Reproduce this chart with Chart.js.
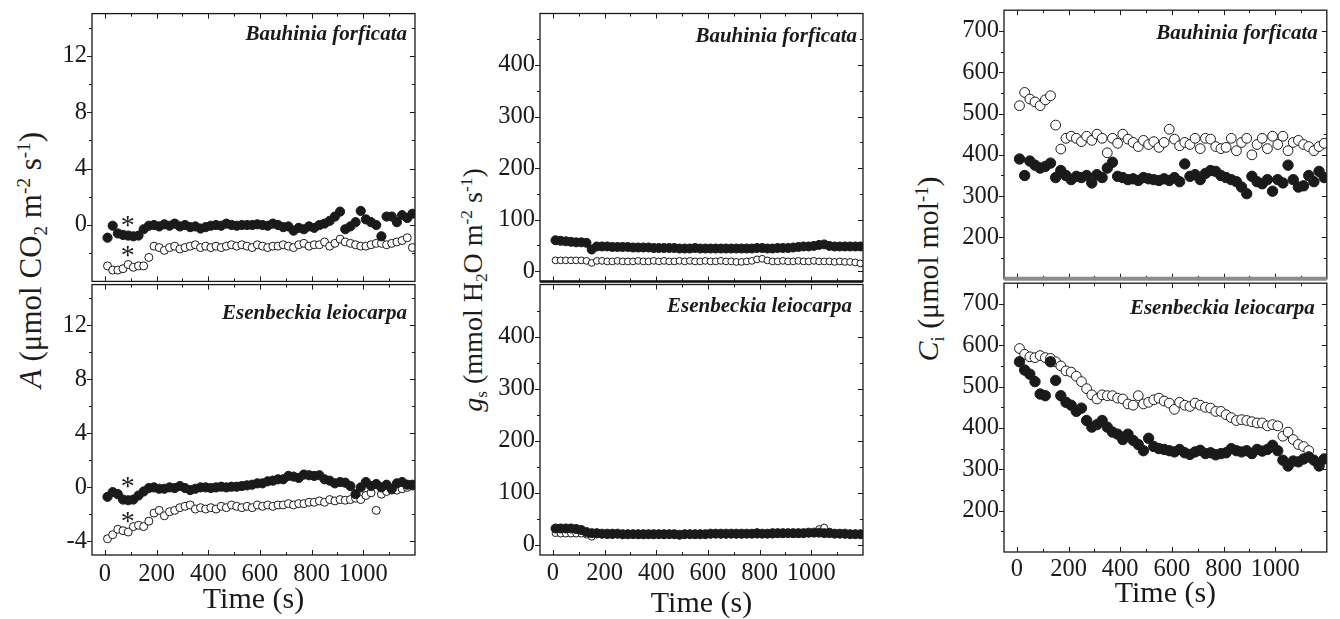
<!DOCTYPE html>
<html>
<head>
<meta charset="utf-8">
<script src="https://cdn.jsdelivr.net/npm/chart.js@4.4.1/dist/chart.umd.min.js"></script>
<style>
  html, body { margin: 0; padding: 0; background: #fff; }
  #fig { position: relative; width: 1340px; height: 619px; overflow: hidden;
         font-family: "Liberation Serif", "Times New Roman", serif; color: #1d1d1b; }
  #fig canvas { position: absolute; }
  .ytitle { position: absolute; white-space: nowrap; line-height: 1;
            transform: translate(-50%, -50%) rotate(-90deg); }
  .ytitle sub, .ytitle sup { font-size: 0.62em; line-height: 0; position: relative; vertical-align: baseline; }
  .ytitle sub { top: 0.3em; }
  .ytitle sup { top: -0.55em; }
</style>
</head>
<body>
<div id="fig">
  <div class="ytitle" style="left:30px;top:260px;font-size:31px"><i>A</i> (μmol CO<sub>2</sub> m<sup>-2</sup> s<sup>-1</sup>)</div>
  <div class="ytitle" style="left:473px;top:290px;font-size:28px"><i>g</i><sub>s</sub> (mmol H<sub>2</sub>O m<sup>-2</sup> s<sup>-1</sup>)</div>
  <div class="ytitle" style="left:928px;top:269px;font-size:30px"><i>C</i><sub>i</sub> (μmol mol<sup>-1</sup>)</div>
</div>
<script>
// sampling times (s)
const times = [10, 30, 50, 70, 90, 110, 130, 150, 170, 190,
  210, 230, 250, 270, 290, 310, 330, 350, 370, 390,
  410, 430, 450, 470, 490, 510, 530, 550, 570, 590,
  610, 630, 650, 670, 690, 710, 730, 750, 770, 790,
  810, 830, 850, 870, 890, 910, 930, 950, 970, 990,
  1010, 1030, 1050, 1070, 1090, 1110, 1130, 1150, 1170, 1190];

// A - Bauhinia forficata
const aBfFilled = [-0.9, -0.05, -0.6, -0.7, -0.75, -0.8, -0.75, -0.3, -0.05, 0.0,
  -0.1, 0.05, -0.05, 0.1, -0.1, 0.0, -0.15, -0.1, -0.25, -0.15,
  -0.05, 0.0, -0.05, 0.1, 0.0, -0.05, 0.0, 0.0, 0.0, 0.05,
  0.0, -0.05, 0.1, 0.0, -0.15, -0.1, -0.4, -0.2, -0.3, -0.1,
  -0.2, 0.0, 0.1, 0.3, 0.6, 0.95, -0.3, -0.1, 0.2, 1.0,
  0.4, 0.2, 0.0, -0.8, 0.6, 0.6, 0.2, 0.7, 0.5, 0.8];
const aBfOpen = [-2.9, -3.2, -3.2, -3.1, -2.8, -3.0, -2.9, -2.9, -2.3, -1.5,
  -1.6, -1.8, -1.6, -1.5, -1.7, -1.6, -1.5, -1.4, -1.6, -1.5,
  -1.6, -1.5, -1.6, -1.5, -1.4, -1.5, -1.4, -1.5, -1.6, -1.4,
  -1.5, -1.6, -1.5, -1.5, -1.4, -1.5, -1.6, -1.4, -1.3, -1.5,
  -1.4, -1.4, -1.2, -1.5, -1.3, -1.0, -1.2, -1.3, -1.4, -1.5,
  -1.5, -1.4, -1.3, -1.3, -1.4, -1.3, -1.2, -1.1, -0.9, -1.6];

// A - Esenbeckia leiocarpa
const aElFilled = [-0.7, -0.35, -0.5, -0.9, -0.95, -0.9, -0.6, -0.3, -0.05, 0.0,
  -0.1, -0.1, 0.0, -0.05, 0.1, -0.05, -0.2, -0.1, 0.0, 0.0,
  -0.05, 0.0, 0.05, 0.0, 0.05, 0.05, 0.1, 0.15, 0.2, 0.3,
  0.3, 0.45, 0.5, 0.6, 0.6, 0.85, 0.8, 0.7, 0.95, 0.9,
  0.85, 0.9, 0.6, 0.5, 0.3, 0.4, 0.35, 0.1, -0.5, 0.0,
  0.4, 0.1, 0.25, 0.0, 0.2, -0.1, 0.3, 0.4, 0.2, 0.2];
const aElOpen = [-3.8, -3.5, -3.1, -3.2, -3.3, -2.9, -2.8, -2.9, -2.5, -1.9,
  -1.7, -2.1, -1.8, -1.7, -1.5, -1.4, -1.3, -1.6, -1.5, -1.6,
  -1.5, -1.6, -1.4, -1.5, -1.3, -1.4, -1.5, -1.4, -1.5, -1.3,
  -1.4, -1.3, -1.4, -1.3, -1.3, -1.2, -1.3, -1.2, -1.2, -1.1,
  -1.1, -1.0, -1.1, -0.9, -1.0, -0.9, -0.95, -0.9, -0.8, -0.9,
  -0.6, -0.4, -1.7, -0.5, -0.3, -0.2, -0.2, -0.1, 0.0, 0.1];

// gs - Bauhinia forficata
const gsBfFilled = [60, 59, 58, 57, 56, 56, 55, 42, 48, 48,
  48, 47, 47, 47, 47, 46, 46, 46, 46, 45,
  45, 45, 45, 45, 44, 44, 44, 45, 44, 44,
  44, 44, 44, 44, 44, 44, 44, 44, 44, 45,
  45, 44, 44, 45, 45, 45, 46, 47, 48, 48,
  49, 51, 52, 49, 48, 48, 48, 48, 48, 48];
const gsBfOpen = [21, 21, 21, 21, 21, 21, 20, 16, 20, 20,
  19, 19, 20, 19, 19, 19, 20, 19, 19, 20,
  19, 20, 19, 19, 20, 19, 20, 19, 19, 20,
  19, 19, 20, 19, 19, 18, 18, 19, 20, 23,
  24, 21, 19, 19, 20, 19, 19, 20, 19, 19,
  20, 19, 19, 19, 18, 19, 18, 18, 17, 15];

// gs - Esenbeckia leiocarpa
const gsElFilled = [31, 31, 31, 31, 30, 28, 24, 22, 22, 21,
  21, 21, 21, 20, 20, 20, 20, 20, 20, 20,
  20, 20, 20, 20, 19, 20, 20, 20, 20, 20,
  21, 21, 21, 21, 21, 21, 21, 21, 21, 22,
  21, 21, 22, 22, 22, 22, 22, 22, 22, 23,
  23, 23, 22, 22, 21, 21, 21, 20, 20, 20];
const gsElOpen = [22, 21, 21, 21, 21, 21, 19, 15, 19, 19,
  18, 18, 19, 18, 18, 19, 18, 18, 19, 18,
  19, 18, 19, 19, 18, 19, 19, 18, 19, 19,
  19, 20, 19, 19, 20, 19, 19, 20, 20, 19,
  20, 20, 19, 20, 20, 21, 20, 20, 21, 21,
  22, 30, 33, 25, 21, 20, 19, 19, 19, 19];

// Ci - Bauhinia forficata
const ciBfFilled = [390, 350, 385, 375, 368, 372, 380, 345, 362, 350,
  340, 348, 345, 350, 332, 352, 345, 368, 382, 348,
  345, 340, 342, 338, 345, 342, 340, 338, 342, 338,
  345, 335, 378, 348, 352, 340, 355, 362, 360, 350,
  345, 340, 335, 322, 306, 348, 335, 330, 340, 312,
  340, 332, 375, 340, 322, 325, 350, 335, 360, 345];
const ciBfOpen = [519, 551, 535, 528, 519, 533, 543, 472, 414, 440,
  445, 440, 432, 445, 435, 450, 440, 405, 440, 428,
  450, 438, 430, 420, 435, 425, 432, 418, 430, 462,
  438, 422, 430, 425, 440, 415, 440, 438, 420, 415,
  418, 440, 410, 430, 440, 400, 425, 440, 415, 445,
  425, 445, 410, 430, 435, 425, 420, 410, 420, 428];

// Ci - Esenbeckia leiocarpa
const ciElFilled = [560, 540, 530, 512, 482, 478, 560, 515, 478, 462,
  455, 440, 448, 418, 402, 408, 418, 402, 390, 385,
  372, 385, 370, 360, 345, 375, 355, 350, 348, 345,
  342, 348, 340, 336, 342, 346, 338, 340, 335, 338,
  340, 350, 345, 342, 345, 338, 348, 344, 348, 358,
  345, 322, 308, 320, 318, 325, 330, 322, 308, 325];
const ciElOpen = [592, 578, 572, 570, 575, 570, 568, 560, 550, 538,
  535, 525, 512, 495, 480, 470, 480, 478, 478, 472,
  470, 458, 455, 478, 458, 462, 468, 472, 465, 460,
  445, 462, 455, 452, 460, 455, 450, 448, 440, 440,
  432, 425, 418, 420, 418, 415, 412, 412, 405, 408,
  405, 380, 390, 372, 360, 355, 345, null, null, null];

// tick labels
const timeTicks = [0, 200, 400, 600, 800, 1000];
const aTicksTop = [0, 4, 8, 12];
const aTicksBottom = [-4, 0, 4, 8, 12];
const gsTicks = [0, 100, 200, 300, 400];
const ciTicks = [200, 300, 400, 500, 600, 700];

const ink = '#1a1a18';
const serif = '"Liberation Serif", "Times New Roman", serif';
const Y_AXIS_W = 60, X_AXIS_H = 64, PAD = 4, PAD_R = 6;

function pts(values) {
  return times.map((t, i) => ({ x: t, y: values[i] }));
}

// box, inward ticks, divider, species name and asterisks
const framePlugin = {
  id: 'frame',
  afterDatasetsDraw(chart, args, o) {
    const { ctx, chartArea: a, scales: { x, y } } = chart;
    ctx.save();
    ctx.strokeStyle = ink;
    ctx.lineWidth = 1;
    ctx.beginPath();
    for (let v = Math.ceil(x.min / 100) * 100; v < x.max; v += 100) {
      if (v <= x.min) continue;
      const px = Math.round(x.getPixelForValue(v)) + 0.5;
      const len = v % 200 === 0 ? 5 : 3;
      ctx.moveTo(px, a.bottom); ctx.lineTo(px, a.bottom - len);
      ctx.moveTo(px, a.top); ctx.lineTo(px, a.top + len);
    }
    for (let v = Math.ceil(y.min / o.yMinor) * o.yMinor; v < y.max; v += o.yMinor) {
      if (v <= y.min) continue;
      const py = Math.round(y.getPixelForValue(v)) + 0.5;
      const len = o.yTicks.includes(v) ? 5 : 3;
      ctx.moveTo(a.left - len, py); ctx.lineTo(a.left, py);
      ctx.moveTo(a.right, py); ctx.lineTo(a.right - len, py);
    }
    ctx.stroke();

    ctx.lineWidth = 1.3;
    ctx.strokeRect(a.left, a.top, a.right - a.left, a.bottom - a.top);

    if (o.divider) {
      ctx.strokeStyle = o.divider.color;
      ctx.lineWidth = o.divider.width;
      ctx.beginPath();
      ctx.moveTo(a.left, a.bottom); ctx.lineTo(a.right, a.bottom);
      ctx.stroke();
    }

    ctx.fillStyle = ink;
    ctx.font = 'italic bold 21px ' + serif;
    ctx.textAlign = 'right';
    ctx.textBaseline = 'middle';
    ctx.fillText(o.label, a.right - o.labelDx, a.top + o.labelDy);

    ctx.font = '28px ' + serif;
    ctx.textAlign = 'center';
    ctx.textBaseline = 'alphabetic';
    (o.stars || []).forEach(s => {
      ctx.fillText('*', x.getPixelForValue(s[0]), y.getPixelForValue(s[1]) + 12);
    });
    ctx.restore();
  }
};

function noLabelPadding(s) {
  s.paddingTop = 0; s.paddingBottom = 0; s.paddingLeft = 0; s.paddingRight = 0;
}

function makePanel(p) {
  const [l, t, r, b] = p.plot;
  const showX = p.xTitlePad !== undefined;
  const w = (r - l) + Y_AXIS_W + PAD_R;
  const h = (b - t) + PAD + (showX ? X_AXIS_H : PAD);
  const canvas = document.createElement('canvas');
  canvas.width = w; canvas.height = h;
  canvas.style.left = (l - Y_AXIS_W) + 'px';
  canvas.style.top = (t - PAD) + 'px';
  canvas.style.width = w + 'px'; canvas.style.height = h + 'px';
  document.getElementById('fig').appendChild(canvas);

  new Chart(canvas, {
    type: 'scatter',
    data: {
      datasets: [
        { data: pts(p.filled), pointRadius: p.r[0], pointBackgroundColor: ink,
          pointBorderColor: ink, pointBorderWidth: 1, order: 0 },
        { data: pts(p.open), pointRadius: p.r[1], pointBackgroundColor: '#fff',
          pointBorderColor: ink, pointBorderWidth: 1, order: 1 }
      ]
    },
    options: {
      responsive: false,
      animation: false,
      devicePixelRatio: 1,
      layout: { padding: { top: PAD, right: PAD_R, left: 0, bottom: showX ? 0 : PAD } },
      plugins: {
        legend: { display: false },
        tooltip: { enabled: false },
        frame: { label: p.label, labelDx: p.lab[0], labelDy: p.lab[1], yMinor: p.yMinor,
                 yTicks: p.yTicks, divider: p.divider, stars: p.stars }
      },
      scales: {
        x: {
          type: 'linear', min: -50, max: 1200, display: showX,
          afterBuildTicks: s => { s.ticks = timeTicks.map(v => ({ value: v })); },
          afterFit: s => { s.height = showX ? X_AXIS_H : 0; noLabelPadding(s); },
          grid: { display: false, drawTicks: false },
          border: { display: false },
          ticks: { color: ink, font: { family: serif, size: 24.5 }, padding: p.xTickPad || 4,
                   maxRotation: 0, autoSkip: false, callback: v => String(v) },
          title: { display: true, text: 'Time (s)', color: ink,
                   font: { family: serif, size: 30, lineHeight: 1 },
                   padding: { top: 0, bottom: p.xTitlePad || 0 } }
        },
        y: {
          type: 'linear', min: p.yMin, max: p.yMax,
          afterBuildTicks: s => { s.ticks = p.yTicks.map(v => ({ value: v })); },
          afterFit: s => { s.width = Y_AXIS_W; noLabelPadding(s); },
          grid: { display: false, drawTicks: false },
          border: { display: false },
          ticks: { color: ink, font: { family: serif, size: 24.5 }, padding: 5, autoSkip: false,
                   callback: v => String(v) }
        }
      }
    },
    plugins: [framePlugin]
  });
}

const panels = [
  { plot: [92, 12, 415, 283], yMin: -4, yMax: 15, yTicks: aTicksTop, yMinor: 2,
    filled: aBfFilled, open: aBfOpen, r: [4.6, 4.0], label: 'Bauhinia forficata', lab: [8, 21],
    stars: [[88, 0.21], [88, -1.9]] },
  { plot: [92, 283, 415, 555], yMin: -5, yMax: 15, yTicks: aTicksBottom, yMinor: 2,
    filled: aElFilled, open: aElOpen, r: [4.6, 4.0], label: 'Esenbeckia leiocarpa', lab: [8, 29],
    stars: [[88, 0.35], [88, -2.28]], xTickPad: 5, xTitlePad: 4 },
  { plot: [540, 12, 863, 283], yMin: -20, yMax: 500, yTicks: gsTicks, yMinor: 50,
    filled: gsBfFilled, open: gsBfOpen, r: [4.5, 3.4], label: 'Bauhinia forficata', lab: [6, 23],
    divider: { color: '#111', width: 2.5 } },
  { plot: [540, 283, 863, 555], yMin: -20, yMax: 500, yTicks: gsTicks, yMinor: 50,
    filled: gsElFilled, open: gsElOpen, r: [4.5, 3.4], label: 'Esenbeckia leiocarpa', lab: [11, 22],
    xTickPad: 3.5, xTitlePad: 0 },
  { plot: [1004, 8, 1327, 281], yMin: 100, yMax: 750, yTicks: ciTicks, yMinor: 50,
    filled: ciBfFilled, open: ciBfOpen, r: [5.2, 4.9], label: 'Bauhinia forficata', lab: [9, 23],
    divider: { color: '#8c8c8c', width: 4 } },
  { plot: [1004, 281, 1327, 552], yMin: 100, yMax: 750, yTicks: ciTicks, yMinor: 50,
    filled: ciElFilled, open: ciElOpen, r: [5.2, 4.9], label: 'Esenbeckia leiocarpa', lab: [12, 25],
    xTickPad: 3, xTitlePad: 7 }
];

panels.forEach(makePanel);
</script>
</body>
</html>
